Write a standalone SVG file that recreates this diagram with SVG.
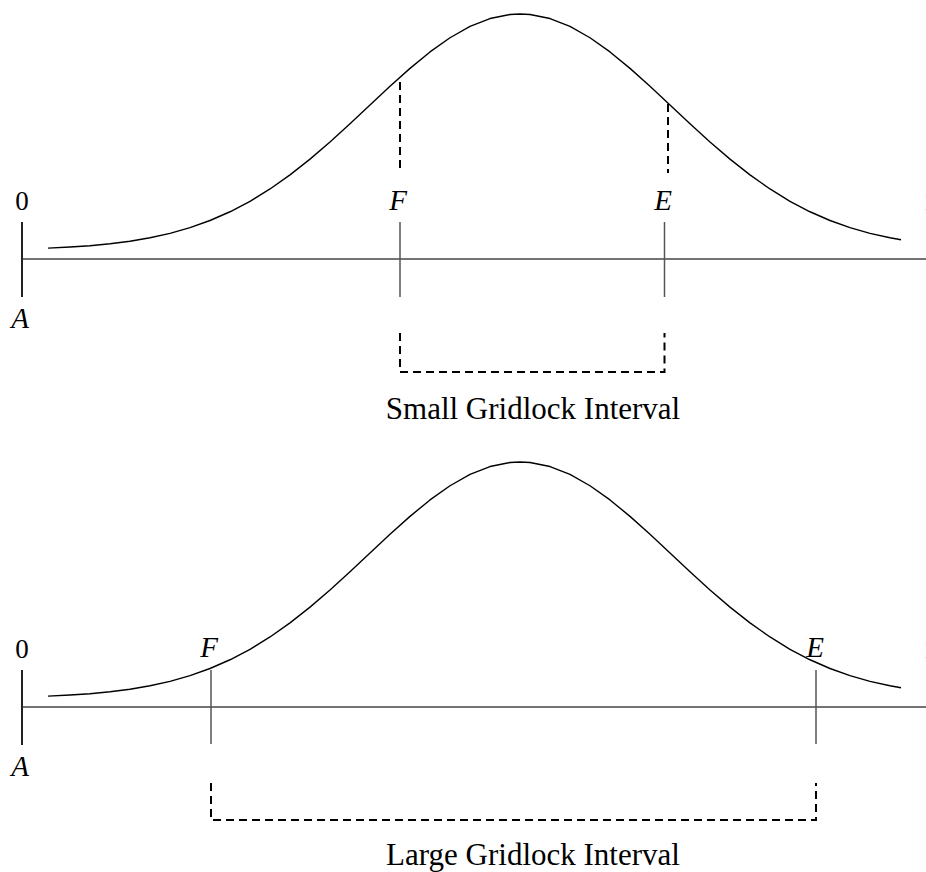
<svg xmlns="http://www.w3.org/2000/svg" width="926" height="872" viewBox="0 0 926 872">
<defs>
<style>
.curve{fill:none;stroke:#000;stroke-width:1.4;stroke-linejoin:round}
.axis{stroke:#444;stroke-width:1.5;fill:none}
.origin{stroke:#222;stroke-width:2;fill:none}
.tick{stroke:#555;stroke-width:1.5;fill:none}
.dash{stroke:#000;stroke-width:2;fill:none;stroke-dasharray:8 5}
.lab{font-family:"Liberation Serif","Times New Roman",serif;font-style:italic;font-size:29px;fill:#000;text-anchor:middle}
.num{font-family:"Liberation Serif","Times New Roman",serif;font-size:27px;fill:#000;text-anchor:middle}
.edge{font-family:"Liberation Serif","Times New Roman",serif;font-size:27px;fill:#000;text-anchor:start}
.cap{font-family:"Liberation Serif","Times New Roman",serif;font-size:31px;fill:#000;text-anchor:middle}
</style>
<polyline id="gauss" class="curve" points="48,248.1 70,247.05 90,245.69 110,243.79 130,241.22 150,237.8 170,233.35 190,227.65 210,220.51 230,211.76 250,201.28 270,188.97 290,174.88 310,159.13 330,141.95 350,123.73 370,104.98 390,86.29 410,68.36 430,51.94 450,37.74 470,26.43 490,18.55 510,14.51 520,14 530,14.51 550,18.55 570,26.43 590,37.74 610,51.94 630,68.36 650,86.29 670,104.98 690,123.73 710,141.95 730,159.13 750,174.88 770,188.97 790,201.28 810,211.76 830,220.51 850,227.65 870,233.35 890,237.8 901,239.8"/>
</defs>

<g id="small-panel">
  <g id="small-curve"><use href="#gauss"/></g>
  <g id="small-axis">
    <line class="axis" x1="22" y1="259" x2="926" y2="259"/>
    <line class="origin" x1="22" y1="222" x2="22" y2="297"/>
    <text class="num" x="22" y="210">0</text>
    <text class="lab" x="20" y="328">A</text>
    <text class="edge" x="923.5" y="210">1</text>
  </g>
  <g id="small-F">
    <line class="tick" x1="400" y1="222" x2="400" y2="297"/>
    <text class="lab" x="398" y="210">F</text>
  </g>
  <g id="small-E">
    <line class="tick" x1="664.5" y1="222" x2="664.5" y2="297"/>
    <text class="lab" x="663" y="210">E</text>
  </g>
  <g id="small-label">
    <text class="cap" x="533" y="419">Small Gridlock Interval</text>
  </g>
</g>

<g id="large-panel">
  <g id="large-curve"><use href="#gauss" transform="translate(0,448)"/></g>
  <g id="large-axis">
    <line class="axis" x1="22" y1="707" x2="926" y2="707"/>
    <line class="origin" x1="22" y1="670" x2="22" y2="745"/>
    <text class="num" x="22" y="658">0</text>
    <text class="lab" x="20" y="776">A</text>
    <text class="edge" x="923.5" y="658">1</text>
  </g>
  <g id="large-F">
    <line class="tick" x1="211" y1="670" x2="211" y2="744"/>
    <text class="lab" x="209" y="657">F</text>
  </g>
  <g id="large-E">
    <line class="tick" x1="816" y1="670" x2="816" y2="744"/>
    <text class="lab" x="815" y="657">E</text>
  </g>
  <g id="large-label">
    <text class="cap" x="533" y="865">Large Gridlock Interval</text>
  </g>
</g>

<g id="connectors">
  <line class="dash" x1="400" y1="82" x2="400" y2="170"/>
  <line class="dash" x1="668" y1="104" x2="668" y2="173"/>
  <polyline class="dash" points="400,333 400,372 664.5,372 664.5,333"/>
  <polyline class="dash" points="211,783 211,820 816,820 816,783"/>
</g>
</svg>
